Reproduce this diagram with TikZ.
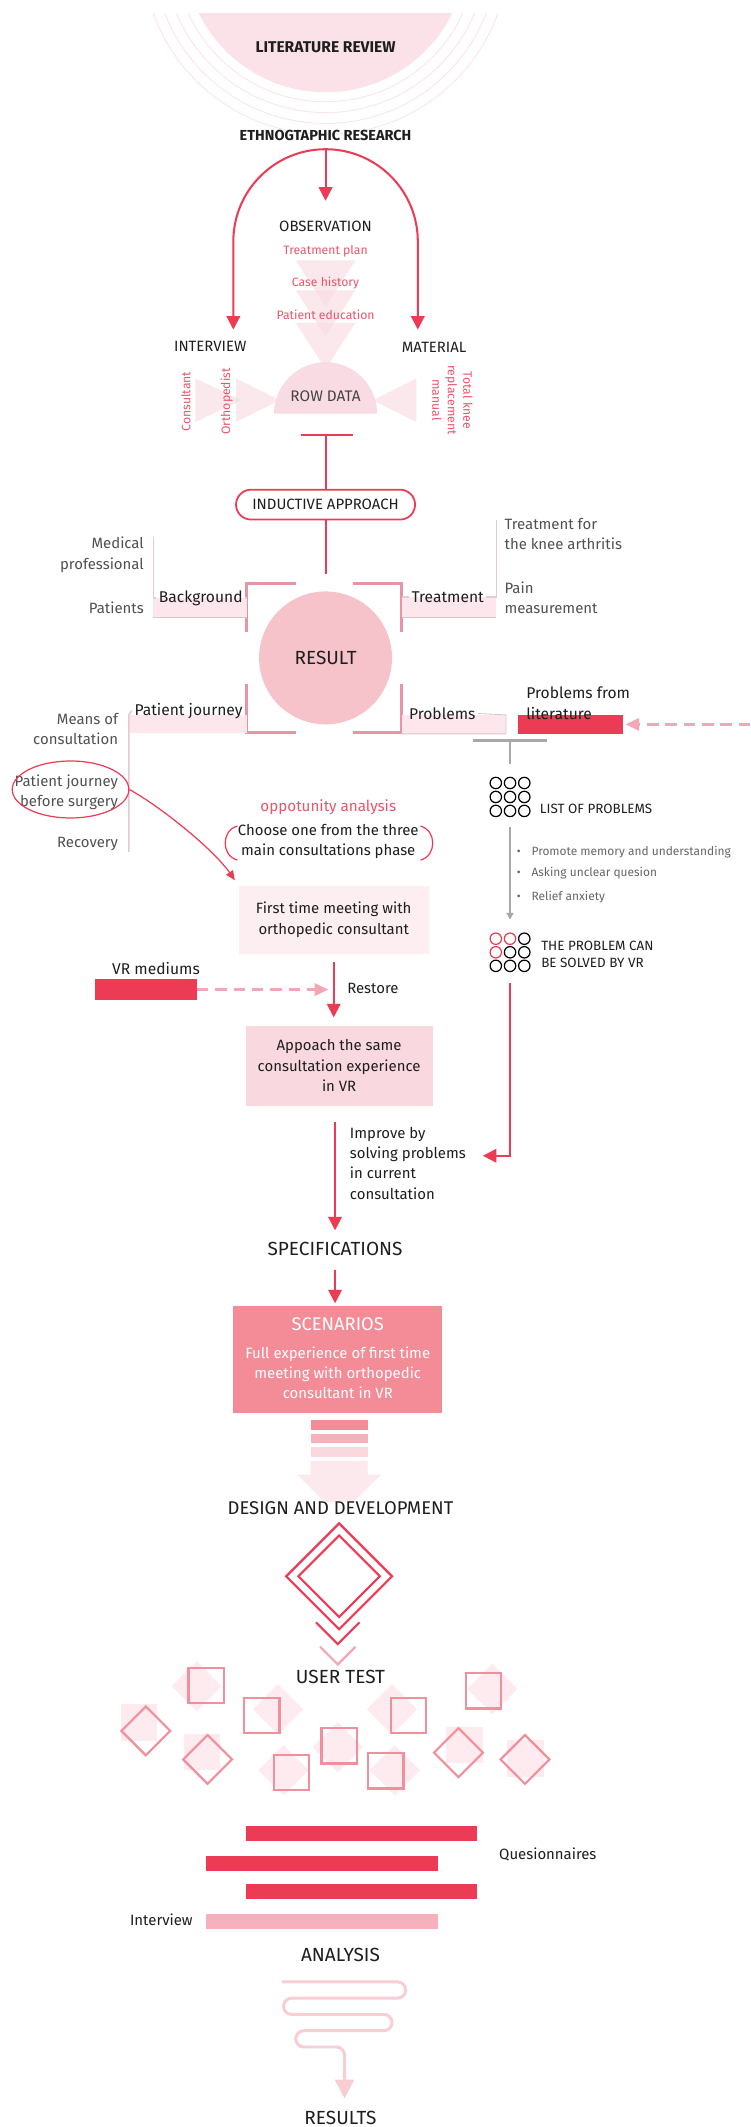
\documentclass[tikz,border=0pt]{standalone}
\usepackage{fontspec}
\setmainfont{Fira Sans}
\usetikzlibrary{arrows.meta,shapes.geometric,calc}

\definecolor{accent}{HTML}{EC3C55}
\definecolor{accenttext}{HTML}{E8566C}
\definecolor{litfill}{HTML}{FBE2E8}
\definecolor{ringline}{HTML}{F8E4E9}
\definecolor{softfill}{HTML}{F9DCE3}
\definecolor{resultfill}{HTML}{F6C3CB}
\definecolor{bracket}{HTML}{E994A4}
\definecolor{bandfill}{HTML}{FDE7ED}
\definecolor{bandline}{HTML}{D6C6CA}
\definecolor{stemcol}{HTML}{E2CCD2}
\definecolor{boxA}{HTML}{FDEEF1}
\definecolor{boxB}{HTML}{F9D8E0}
\definecolor{scenario}{HTML}{F48C98}
\definecolor{barB}{HTML}{F7B1BC}
\definecolor{barC}{HTML}{FAD8DE}
\definecolor{arrowfill}{HTML}{FCE9EE}
\definecolor{dashpink}{HTML}{F4A6B7}
\definecolor{shapeline}{HTML}{F28F9C}
\definecolor{shapefill}{HTML}{FDEBEF}
\definecolor{serp}{HTML}{F9CDD4}
\definecolor{ink}{HTML}{1E1E1E}
\definecolor{rowtext}{HTML}{444444}
\definecolor{labelgray}{HTML}{505050}
\definecolor{bulletgray}{HTML}{666666}
\definecolor{rulegray}{HTML}{A8A8A8}

\tikzset{
  txtbase/.style={inner sep=0pt, outer sep=0pt},
  ink11/.style={txtbase, text=ink, font=\fontsize{11}{15}\selectfont, align=center},
  gray11/.style={txtbase, text=labelgray, font=\fontsize{11}{15}\selectfont},
  redsmall/.style={txtbase, text=accenttext, font=\fontsize{9}{11.5}\selectfont},
  stagetxt/.style={txtbase, text=ink, font=\fontsize{14}{16}\selectfont},
  capsmall/.style={txtbase, text=ink, font=\fontsize{11}{13}\selectfont},
  capmini/.style={txtbase, text=ink, font=\fontsize{9.9}{13}\selectfont},
  branchtxt/.style={txtbase, inner xsep=2pt, text=ink, font=\fontsize{11.5}{14}\selectfont},
  bullettxt/.style={txtbase, text=bulletgray, font=\fontsize{8.8}{11}\selectfont},
  redline/.style={draw=accent, line width=1.5pt},
  headend/.style={-{Triangle[width=10pt,length=10pt]}},
  redarrow/.style={redline, headend},
  thinred/.style={draw=accent, line width=0.9pt},
  pinkdash/.style={draw=dashpink, line width=1.8pt, dash pattern=on 8.5pt off 5pt, -{Triangle[width=9pt,length=10pt,fill=dashpink]}},
  stemln/.style={draw=stemcol, line width=1.1pt},
  brk/.style={draw=bracket, line width=2.2pt},
  bandedge/.style={draw=bandline, line width=0.6pt},
  shapeoutline/.style={draw=shapeline, line width=1.6pt},
}

\begin{document}
\begin{tikzpicture}[x=1pt,y=-1pt]
\useasboundingbox (0,0) rectangle (553,1568);
\fill[white] (0,0) rectangle (553,1568);

% ---------- literature review disc with rings ----------
\begin{scope}
  \clip (0,10) rectangle (553,200);
  \fill[litfill] (240,-36) circle[radius=104];
  \foreach \r in {111,119,127,135}
    \draw[ringline, line width=0.6pt] (240,-36) circle[radius=\r];
\end{scope}
\node[txtbase, text=ink, font=\bfseries\fontsize{11.5}{13}\selectfont] (lit) at (240,35) {LITERATURE REVIEW};
\node[txtbase, text=ink, font=\bfseries\fontsize{10.7}{13}\selectfont] (eth) at (240,100) {ETHNOGTAPHIC RESEARCH};

% ---------- three research methods ----------
\coordinate (archtop) at (240,110);
\node[capsmall] (obs) at (240,167) {OBSERVATION};
\coordinate (obstip) at (240,148);
\draw[redarrow] (archtop) -- (obstip);
\node[capsmall] (intv) at (155,255) {INTERVIEW};
\node[capsmall] (matl) at (320,256) {MATERIAL};
\coordinate (intvtip) at (172,243);
\coordinate (matltip) at (308,243);
\draw[redline, {Triangle[width=10pt,length=10pt]}-{Triangle[width=10pt,length=10pt]}]
  (intvtip) -- (172,178) arc[start angle=180, end angle=360, radius=68] -- (matltip);

% funnel of observation items
\foreach \t/\b in {192/226, 214/248, 238/272}
  \fill[softfill, opacity=0.65] (218,\t) -- (262,\t) -- (240,\b) -- cycle;
\node[redsmall] (tplan) at (240,185) {Treatment plan};
\node[redsmall] (chist) at (240,209) {Case history};
\node[redsmall] (pedu) at (240,232) {Patient education};

% raw data dome with side inputs
\fill[softfill] (202,305) arc[start angle=180, end angle=360, radius=38] -- cycle;
\fill[softfill, opacity=0.65] (144,279) -- (178,295) -- (144,311) -- cycle;
\fill[softfill, opacity=0.65] (174,279) -- (206,295) -- (174,311) -- cycle;
\fill[softfill, opacity=0.65] (307,279) -- (275,295) -- (307,311) -- cycle;
\node[txtbase, text=rowtext, font=\fontsize{11.3}{13}\selectfont] (row) at (240,292) {ROW DATA};
\node[redsmall, rotate=90] (consult) at (137,296) {Consultant};
\node[redsmall, rotate=90] (ortho) at (167,296) {Orthopedist};
\node[redsmall, rotate=-90, align=center] (knee) at (333.5,295) {Total knee\\replacement\\manual};

% ---------- inductive approach ----------
\coordinate (tbar) at (240,321);
\draw[redline] (222,321) -- (260,321);
\node[draw=accent, line width=1.3pt, rounded corners=11pt, minimum width=132pt, minimum height=22pt,
      inner sep=0pt, text=ink, font=\fontsize{11}{13}\selectfont] (ind) at (240,372) {INDUCTIVE APPROACH};
\draw[redline] (tbar) -- (ind.north);
\coordinate (indend) at (240,423);
\draw[redline] (ind.south) -- (indend);

% ---------- result hub ----------
\node[circle, fill=resultfill, minimum size=98pt, inner sep=0pt, text=ink,
      font=\fontsize{14}{16}\selectfont] (res) at (240,485) {RESULT};
\draw[brk] (182,466) -- (182,430) -- (218,430);
\draw[brk] (260,430) -- (296,430) -- (296,466);
\draw[brk] (182,504) -- (182,540) -- (218,540);
\draw[brk] (260,540) -- (296,540) -- (296,504);

% background branch
\fill[bandfill] (113,441) rectangle (182,455);
\draw[bandedge] (113,455) -- (182,455);
\node[branchtxt] (bg) at (148,441) {Background};
\draw[stemln] (113,396) -- (113,441) -- (bg.west);
\draw[stemln] (bg.east) -- (182,441);
\node[gray11, anchor=east, align=right] (medpro) at (106,409) {Medical\\professional};
\node[gray11, anchor=east] (pats) at (106,448) {Patients};

% treatment branch
\fill[bandfill] (296,440) rectangle (366,455);
\draw[bandedge] (296,455) -- (366,455);
\node[branchtxt] (trt) at (330,440) {Treatment};
\draw[stemln] (trt.west) -- (296,440);
\draw[stemln] (trt.east) -- (366,440) -- (366,383);
\node[gray11, anchor=west, align=left] (trtfor) at (372,393.5) {Treatment for\\the knee arthritis};
\node[gray11, anchor=west, align=left] (pain) at (372,440.5) {Pain\\measurement};

% patient journey branch
\fill[bandfill] (95,527) rectangle (182,540);
\node[branchtxt] (pjr) at (139,524) {Patient journey};
\draw[stemln] (95,628) -- (95,527) -- (pjr.west);
\node[gray11, anchor=east, align=right] (means) at (87,537.5) {Means of\\consultation};
\node[gray11, anchor=east, align=right] (pjbs) at (87,584) {Patient journey\\before surgery};
\node[gray11, anchor=east] (recov) at (87,622) {Recovery};
\node[ellipse, draw=accent, line width=0.9pt, minimum width=86pt, minimum height=42pt, inner sep=0pt] (circled) at (52,582) {};

% problems branch
\fill[bandfill] (296,527) rectangle (373,541);
\node[branchtxt] (prb) at (326,526) {Problems};
\draw[bandedge] (prb.east) -- (373,527) -- (373,541) -- (296,541);
\node[fill=accent, minimum width=77pt, minimum height=14pt, inner sep=0pt] (plit) at (420.5,534) {};
\node[branchtxt, inner xsep=0pt, anchor=west, align=left, font=\fontsize{11.5}{15}\selectfont] (plittxt) at (388,518.5) {Problems from\\literature};
\coordinate (dashsrc) at (553,534);
\draw[pinkdash, shorten >=2pt] (dashsrc) -- (plit.east);

% ---------- problem list ----------
\coordinate (listbar) at (376,546);
\coordinate (listtop) at (376,563);
\draw[rulegray, line width=2pt] (349,546) -- (403,546);
\draw[rulegray, line width=1.2pt] (listbar) -- (listtop);
\foreach \i in {0,1,2}
  \foreach \j in {0,1,2}
    \draw[black, line width=0.9pt] (365.5+10.5*\i, 577.2+10.3*\j) circle[radius=4.2];
\node[capmini, anchor=west] (lop) at (398,596) {LIST OF PROBLEMS};
\coordinate (lsrc) at (376,610);
\coordinate (ldst) at (376,678);
\draw[rulegray, line width=1.2pt, -{Triangle[width=5pt,length=5pt]}] (lsrc) -- (ldst);
\node[bullettxt, anchor=west] (b1) at (381,628) {\textbullet\hspace{8pt}Promote memory and understanding};
\node[bullettxt, anchor=west] (b2) at (381,644) {\textbullet\hspace{8pt}Asking unclear quesion};
\node[bullettxt, anchor=west] (b3) at (381,661) {\textbullet\hspace{8pt}Relief anxiety};
\foreach \i/\j/\c in {0/0/accent,1/0/accent,2/0/black,0/1/accent,1/1/black,2/1/black,0/2/black,1/2/black,2/2/black}
  \draw[\c, line width=0.9pt] (365.5+10.5*\i, 692+10*\j) circle[radius=4.2];
\node[capmini, anchor=west, align=left] (vrsolve) at (399,703.5) {THE PROBLEM CAN\\BE SOLVED BY VR};

% ---------- opportunity analysis ----------
\node[txtbase, text=accenttext, font=\fontsize{11.2}{13}\selectfont] (opp) at (242,595) {oppotunity analysis};
\node[ink11] (choose) at (242,620.5) {Choose one from the three\\main consultations phase};
\draw[thinred] (175,609) .. controls (163,612) and (163,631) .. (175,634);
\draw[thinred] (310,609) .. controls (322,612) and (322,631) .. (310,634);

\node[ink11, fill=boxA, minimum width=140pt, minimum height=50pt] (meet) at (246,678) {First time meeting with\\orthopedic consultant};
\draw[thinred, -{Triangle[width=6pt,length=7pt]}, shorten >=5pt]
  (circled.east) .. controls +(25,14) and +(-18,-26) .. (meet.north west);

% VR mediums
\node[fill=accent, minimum width=75pt, minimum height=15pt, inner sep=0pt] (vr) at (107.5,729.5) {};
\node[ink11, font=\fontsize{11.5}{14}\selectfont] (vrlbl) at (115,714) {VR mediums};
\node[ink11, minimum width=138pt, minimum height=59pt, fill=boxB] (app) at (250,785.5) {Appoach the same\\consultation experience\\in VR};
\coordinate (restorept) at (246,729.5);
\draw[redarrow, shorten <=6pt, shorten >=6pt] (meet.south) -- (app.north -| meet.south);
\draw[pinkdash, shorten >=4pt] (vr.east) -- (restorept);
\node[ink11, anchor=west] (restore) at (256,729) {Restore};

% ---------- specifications ----------
\node[stagetxt] (spec) at (247,921) {SPECIFICATIONS};
\draw[redarrow, shorten <=12pt, shorten >=9pt] (app.south -| spec.north) -- (spec.north);
\node[ink11, anchor=west, align=left] (impr) at (258,857.5) {Improve by\\solving problems\\in current\\consultation};
\coordinate (imptip) at (356,852);
\coordinate (vrsrc) at (376,725);
\draw[redarrow] (vrsrc) |- (imptip);

% ---------- scenarios ----------
\node[fill=scenario, minimum width=154pt, minimum height=79pt, inner sep=0pt] (scen) at (249,1002.5) {};
\draw[redarrow, shorten <=10pt, shorten >=2pt] (spec.south) -- (spec.south |- scen.north);
\node[txtbase, text=white, font=\fontsize{13.5}{16}\selectfont] (scentitle) at (249,976) {SCENARIOS};
\node[txtbase, text=white, align=center, font=\fontsize{11}{15}\selectfont] (scenbody) at (249,1012) {Full experience of first time\\meeting with orthopedic\\consultant in VR};

% stepped bars and broad arrow
\fill[scenario] (229,1047) rectangle (271,1054);
\fill[barB] (229,1057) rectangle (271,1064);
\fill[barC] (229,1067) rectangle (271,1074);
\fill[arrowfill] (229,1077) -- (271,1077) -- (271,1087) -- (281,1087) -- (250,1118) -- (219,1087) -- (229,1087) -- cycle;
\node[stagetxt, fill=white, font=\fontsize{13.6}{16}\selectfont] (design) at (251,1112) {DESIGN AND DEVELOPMENT};

% ---------- design diamonds ----------
\draw[accent, line width=1.6pt] (250,1123) -- (289,1162) -- (250,1201) -- (211,1162) -- cycle;
\draw[accent, line width=1.6pt] (250,1132) -- (280,1162) -- (250,1192) -- (220,1162) -- cycle;
\draw[accent, line width=1.6pt] (233,1196) -- (249,1212) -- (265,1196);
\draw[dashpink, line width=1.6pt] (236,1214) -- (249,1227) -- (262,1214);
\node[stagetxt] (utest) at (251,1236) {USER TEST};

% ---------- user test scatter ----------
\foreach \sx/\sy/\dx/\dy in {152/1242.5/145/1243, 193/1264.5/205/1260, 215/1306.5/209/1305, 250/1287/249/1288, 284.5/1305.5/291/1305, 301/1264.5/289/1260, 356.5/1246.5/363/1245}{
  \fill[shapefill] (\dx,\dy-18.5) -- (\dx+18.5,\dy) -- (\dx,\dy+18.5) -- (\dx-18.5,\dy) -- cycle;
  \draw[shapeoutline] (\sx-13,\sy-13) rectangle (\sx+13,\sy+13);
}
\foreach \dx/\dy/\sx/\sy in {107.5/1276/102.5/1270, 153/1297/149/1291.5, 338/1292/342.5/1286.5, 387/1297/387.5/1296.5}{
  \fill[shapefill] (\sx-13.5,\sy-13.5) rectangle (\sx+13.5,\sy+13.5);
  \draw[shapeoutline] (\dx,\dy-18) -- (\dx+18,\dy) -- (\dx,\dy+18) -- (\dx-18,\dy) -- cycle;
}

% ---------- questionnaires and interview ----------
\fill[accent] (181,1346) rectangle (352,1357);
\fill[accent] (152,1368) rectangle (323,1379);
\fill[accent] (181,1389) rectangle (352,1400);
\fill[barB] (152,1411) rectangle (323,1422);
\node[ink11, anchor=west] (quest) at (368,1367) {Quesionnaires};
\node[ink11, anchor=east] (intlbl) at (142,1415) {Interview};

% ---------- analysis to results ----------
\node[stagetxt] (anal) at (251,1441) {ANALYSIS};
\node[stagetxt] (results) at (251,1561) {RESULTS};
\coordinate (serpstart) at (208,1461);
\coordinate (serpend) at (254,1547);
\draw[serp, line width=2.2pt, rounded corners=6pt, -{Triangle[width=14pt,length=14pt]}]
  (serpstart) -- (299,1461) -- (299,1473) -- (209,1473) -- (209,1485) -- (289,1485)
  -- (289,1497) -- (218,1497) -- (218,1509) -- (254,1509) -- (serpend);
\end{tikzpicture}
\end{document}
